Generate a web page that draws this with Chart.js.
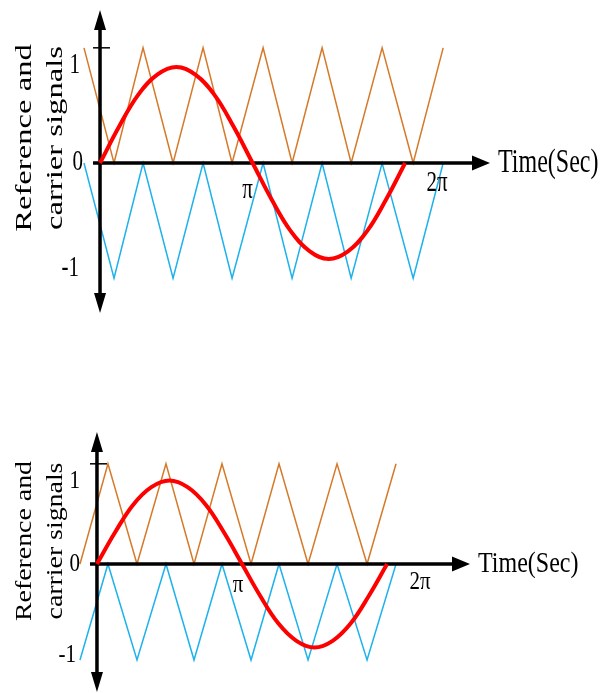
<!DOCTYPE html>
<html>
<head>
<meta charset="utf-8">
<script src="https://cdn.jsdelivr.net/npm/chart.js@4/dist/chart.umd.min.js"></script>
<style>
  body { margin: 0; background: #fff; }
  canvas { display: block; }
</style>
</head>
<body>
<canvas id="top" width="602" height="346"></canvas>
<canvas id="bottom" width="602" height="347"></canvas>
<script>
// reference signal (time in rad)
const refTimes = [0, 0.393, 0.785, 1.178, 1.571, 1.963, 2.356, 2.749, 3.142, 3.534, 3.927, 4.320, 4.712, 5.105, 5.498, 5.890, 6.283];
const refValues = [0, 0.38, 0.71, 0.92, 1, 0.92, 0.71, 0.38, 0, -0.38, -0.71, -0.92, -1, -0.92, -0.71, -0.38, 0];

// carrier vertices, top figure
const topCarrierTimes = [-0.33, 0.288, 0.886, 1.504, 2.122, 2.719, 3.358, 3.955, 4.573, 5.171, 5.809, 6.448, 7.066];
const topUpperCarrier = [1.2, 0, 1.2, 0, 1.2, 0, 1.2, 0, 1.2, 0, 1.2, 0, 1.2];
const topLowerCarrier = [0, -1.2, 0, -1.2, 0, -1.2, 0, -1.2, 0, -1.2, 0, -1.2, 0];

// carrier vertices, bottom figure
const botCarrierTimes = [-0.368, 0.238, 0.867, 1.495, 2.102, 2.708, 3.337, 3.943, 4.572, 5.200, 5.850, 6.478];
const botUpperCarrier = [0, 1.2, 0, 1.2, 0, 1.2, 0, 1.2, 0, 1.2, 0, 1.2];
const botLowerCarrier = [-1.15, 0, -1.15, 0, -1.15, 0, -1.15, 0, -1.15, 0, -1.15, 0];

const yTickValues = [1, 0, -1];
const yTickLabels = ['1', '0', '-1'];
const xTickValues = [Math.PI, 2 * Math.PI];
const xTickLabels = ['π', '2π'];
const xTitle = 'Time(Sec)';
const yTitle = ['Reference and', 'carrier signals'];

const pts = (xs, ys) => xs.map((x, i) => ({ x, y: ys[i] }));

function drawText(ctx, text, x, y, stretch, rotated) {
  ctx.save();
  ctx.translate(x, y);
  if (rotated) {
    ctx.rotate(-Math.PI / 2);
    ctx.scale(stretch, 1);
  } else {
    ctx.scale(1, stretch);
  }
  ctx.fillText(text, 0, 0);
  ctx.restore();
}

const sketchAxes = {
  id: 'sketchAxes',
  // axes go under the red curve (dataset 0 is drawn last)
  beforeDatasetDraw(chart, args) {
    if (args.index !== 0) return;
    const { ctx, chartArea: a, scales: { x, y } } = chart;
    const x0 = x.getPixelForValue(0), y0 = y.getPixelForValue(0);
    const yt = y.getPixelForValue(1.2);
    ctx.save();
    ctx.strokeStyle = '#000';
    ctx.fillStyle = '#000';
    ctx.lineWidth = 3.5;
    ctx.beginPath();
    ctx.moveTo(x0, a.top + 16);
    ctx.lineTo(x0, a.bottom - 16);
    ctx.moveTo(x0 - 7, y0);
    ctx.lineTo(a.right - 14, y0);
    ctx.stroke();
    ctx.lineWidth = 1.5;
    ctx.beginPath();
    ctx.moveTo(x0 - 7, yt);
    ctx.lineTo(x0 + 10, yt);
    ctx.stroke();
    // arrow heads
    ctx.beginPath();
    ctx.moveTo(x0, a.top);
    ctx.lineTo(x0 + 6, a.top + 20);
    ctx.lineTo(x0 - 6, a.top + 20);
    ctx.closePath();
    ctx.moveTo(x0, a.bottom);
    ctx.lineTo(x0 + 6, a.bottom - 20);
    ctx.lineTo(x0 - 6, a.bottom - 20);
    ctx.closePath();
    ctx.moveTo(a.right, y0);
    ctx.lineTo(a.right - 18, y0 - 7.5);
    ctx.lineTo(a.right - 18, y0 + 7.5);
    ctx.closePath();
    ctx.fill();
    ctx.restore();
  },
  afterDraw(chart, args, o) {
    const { ctx, chartArea: a, scales: { x, y } } = chart;
    const x0 = x.getPixelForValue(0), y0 = y.getPixelForValue(0);
    ctx.save();
    ctx.fillStyle = '#000';
    ctx.textBaseline = 'middle';
    ctx.font = '21px "Liberation Serif"';
    ctx.textAlign = 'right';
    yTickValues.forEach((v, i) => {
      drawText(ctx, yTickLabels[i], x0 + o.yLabelDx[i], y.getPixelForValue(v) + o.yLabelDy[i], o.stretch, false);
    });
    ctx.textAlign = 'center';
    xTickValues.forEach((v, i) => {
      drawText(ctx, xTickLabels[i], x.getPixelForValue(v) + o.xLabelDx[i], y0 + o.xLabelDy[i], o.stretch, false);
    });
    ctx.font = '24px "Liberation Serif"';
    ctx.textAlign = 'left';
    drawText(ctx, xTitle, a.right + 8, y0, o.stretch, false);
    ctx.textAlign = 'center';
    drawText(ctx, yTitle[0], 25, o.titleY, o.titleStretch, true);
    drawText(ctx, yTitle[1], 56, o.titleY, o.titleStretch, true);
    ctx.restore();
  }
};

function makeChart(id, times, upper, lower, s) {
  return new Chart(document.getElementById(id), {
    type: 'line',
    data: {
      datasets: [
        { data: pts(refTimes, refValues), borderColor: '#ff0000', borderWidth: 4, tension: 0.4 },
        { data: pts(times, upper), borderColor: '#d67a2a', borderWidth: 1.5, tension: 0 },
        { data: pts(times, lower), borderColor: '#1db2ec', borderWidth: 1.5, tension: 0 }
      ]
    },
    options: {
      responsive: false,
      animation: false,
      events: [],
      layout: { padding: s.padding },
      elements: { point: { radius: 0 } },
      scales: {
        x: { type: 'linear', display: false, min: s.xMin, max: s.xMax },
        y: { display: false, min: s.yMin, max: s.yMax }
      },
      plugins: {
        legend: { display: false },
        tooltip: { enabled: false },
        sketchAxes: s.labels
      }
    },
    plugins: [sketchAxes]
  });
}

makeChart('top', topCarrierTimes, topUpperCarrier, topLowerCarrier, {
  padding: { left: 80.6, right: 112, top: 10, bottom: 33 },
  xMin: -0.4, xMax: 8.03, yMin: -1.5625, yMax: 1.594,
  labels: {
    stretch: 1.36, titleStretch: 1.36, titleY: 138,
    yLabelDx: [-20, -17, -21], yLabelDy: [-2, -1, 9],
    xLabelDx: [-5, 32], xLabelDy: [27, 20]
  }
});

makeChart('bottom', botCarrierTimes, botUpperCarrier, botLowerCarrier, {
  padding: { left: 78.5, right: 132, top: 86, bottom: 1 },
  xMin: -0.4, xMax: 8.08, yMin: -1.533, yMax: 1.581,
  labels: {
    stretch: 1.22, titleStretch: 1.16, titleY: 195,
    yLabelDx: [-17, -17, -21], yLabelDy: [1, 0, 8],
    xLabelDx: [-4, 33], xLabelDy: [21, 18]
  }
});
</script>
</body>
</html>
